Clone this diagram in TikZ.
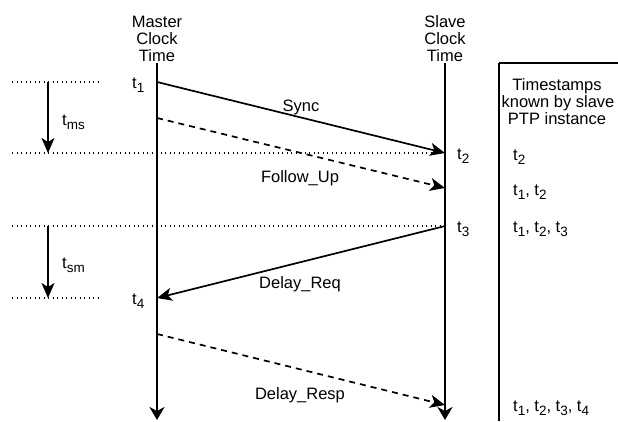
\documentclass[tikz,border=0pt]{standalone}
\usepackage{fontspec}
\setmainfont{Liberation Sans}
\usetikzlibrary{arrows.meta}
\newcommand\tsb[1]{t\raisebox{-4pt}{\fontsize{13.5}{13.5}\selectfont #1}}
\tikzset{
  lbl/.style={anchor=base,inner sep=0pt,font=\fontsize{16.5}{17}\selectfont},
  lblw/.style={lbl,anchor=base west},
  life/.style={line width=2pt,-{Stealth[length=13pt,width=15pt,inset=4pt]}},
  msg/.style={line width=1.7pt,-{Stealth[length=15pt,width=13pt,inset=4pt]}},
  msgdash/.style={msg,dash pattern=on 6pt off 5pt},
  dotline/.style={line width=1.3pt,dash pattern=on 1.3pt off 3.2pt},
  boxline/.style={line width=2pt,line cap=butt}
}
\begin{document}
\begin{tikzpicture}[x=1pt,y=-1pt]
\fill[white] (0,0) rectangle (618,421);
\useasboundingbox (0,0) rectangle (618,421);
% coordinates
\coordinate (mtop) at (157,63);
\coordinate (mbot) at (157,420);
\coordinate (stop) at (445,63);
\coordinate (sbot) at (445,420);
\coordinate (m1) at (157,82);
\coordinate (s2) at (445,153);
\coordinate (mf) at (157,118);
\coordinate (sf) at (445,188);
\coordinate (s3) at (445,226);
\coordinate (m4) at (157,298);
\coordinate (mr) at (157,334);
\coordinate (sr) at (445,405);
\coordinate (d1a) at (12,82);  \coordinate (d1b) at (100,82);
\coordinate (d2a) at (12,153); \coordinate (d2b) at (445,153);
\coordinate (d3a) at (12,226); \coordinate (d3b) at (445,226);
\coordinate (d4a) at (12,298); \coordinate (d4b) at (100,298);
\coordinate (ams1) at (48,82);  \coordinate (ams2) at (48,153);
\coordinate (asm1) at (48,226); \coordinate (asm2) at (48,298);
\coordinate (bx1) at (499,421); \coordinate (bx2) at (499,63); \coordinate (bx3) at (618,63);
% headers
\node[lbl] (ml1) at (157,27) {Master};
\node[lbl] (ml2) at (157,44) {Clock};
\node[lbl] (ml3) at (157,61) {Time};
\node[lbl] (sl1) at (445,27) {Slave};
\node[lbl] (sl2) at (445,44) {Clock};
\node[lbl] (sl3) at (445,61) {Time};
\node[lbl] (h1) at (557,90) {Timestamps};
\node[lbl] (h2) at (558,107) {known by slave};
\node[lbl] (h3) at (557,124) {PTP instance};
% dotted lines
\draw[dotline] (d1a) -- (d1b);
\draw[dotline] (d2a) -- (d2b);
\draw[dotline] (d3a) -- (d3b);
\draw[dotline] (d4a) -- (d4b);
% lifelines
\draw[life] (mtop) -- (mbot);
\draw[life] (stop) -- (sbot);
% box (open to the right and bottom)
\draw[boxline] (bx2) -- (bx1);
\draw[boxline] (bx2) -- (bx3);
% messages
\draw[msg] (m1) -- (s2);
\draw[msgdash] (mf) -- (sf);
\draw[msg] (s3) -- (m4);
\draw[msgdash] (mr) -- (sr);
% interval arrows
\draw[msg] (ams1) -- (ams2);
\draw[msg] (asm1) -- (asm2);
% message labels
\node[lbl] (lsync) at (301,111) {Sync};
\node[lbl] (lfol) at (300,182) {Follow\_Up};
\node[lbl] (lreq) at (300,288) {Delay\_Req};
\node[lbl] (lresp) at (300,399) {Delay\_Resp};
% time labels
\node[lblw] (t1) at (132,88) {\tsb{1}};
\node[lblw] (t4) at (132,304) {\tsb{4}};
\node[lblw] (t2) at (457,159) {\tsb{2}};
\node[lblw] (t3) at (457,232) {\tsb{3}};
\node[lblw] (tms) at (62,125) {\tsb{ms}};
\node[lblw] (tsm) at (62,268) {\tsb{sm}};
% known timestamps
\node[lblw] (k1) at (513,160) {\tsb{2}};
\node[lblw] (k2) at (513,195) {\tsb{1}, \tsb{2}};
\node[lblw] (k3) at (513,232) {\tsb{1}, \tsb{2}, \tsb{3}};
\node[lblw] (k4) at (513,411) {\tsb{1}, \tsb{2}, \tsb{3}, \tsb{4}};
\end{tikzpicture}
\end{document}
